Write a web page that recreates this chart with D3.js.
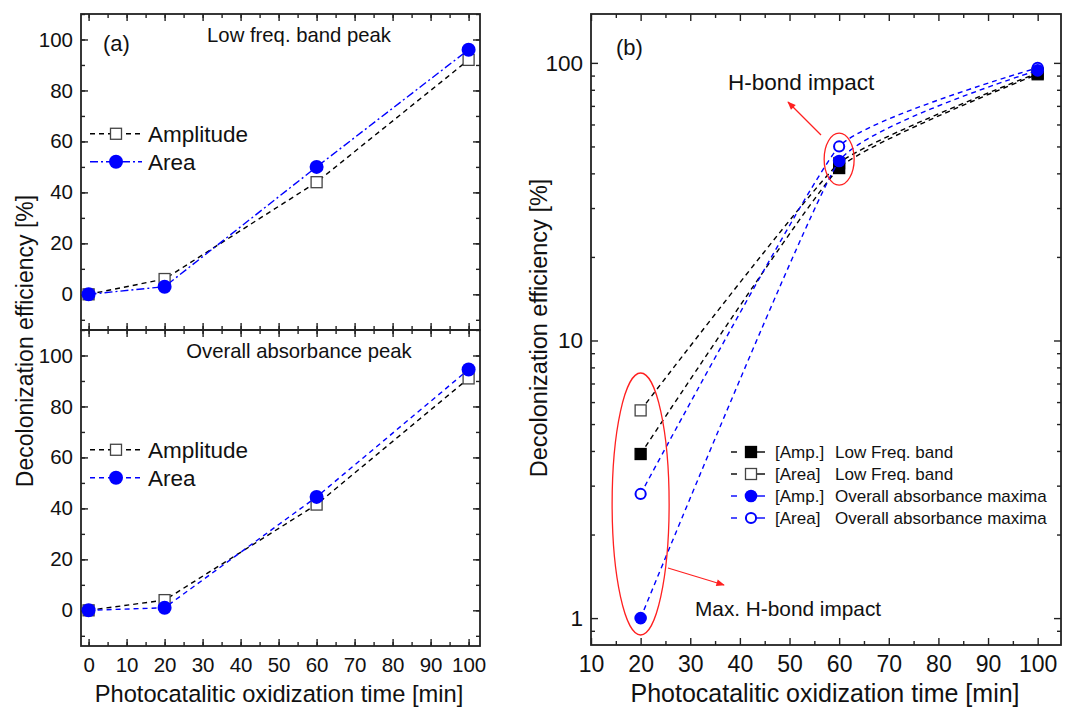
<!DOCTYPE html>
<html>
<head>
<meta charset="utf-8">
<script src="https://cdn.jsdelivr.net/npm/d3@7"></script>
<style>
  body { margin: 0; background: #fff; }
  svg { font-family: "Liberation Sans", Arial, sans-serif; }
  .axis line { stroke: #222; stroke-width: 1.4; }
  .axis text { fill: #111; }
</style>
</head>
<body>
<svg id="chart" width="1071" height="709"></svg>
<script>
// panel (a) data
const timesA = [0, 20, 60, 100];
const lowAmplitude = [0, 6, 44, 92];
const lowArea = [0, 3, 50, 96];
const overallAmplitude = [0, 4, 41.5, 91];
const overallArea = [0, 1, 44.5, 94.5];

// panel (b) data
const timesB = [20, 60, 100];
const bLowAmp = [3.9, 41.8, 91];
const bLowArea = [5.6, 43.5, 92];
const bOverallAmp = [1.0, 44.3, 94];
const bOverallArea = [2.8, 50, 96];

const xTicksA = [0, 10, 20, 30, 40, 50, 60, 70, 80, 90, 100];
const yTicksA = [0, 20, 40, 60, 80, 100];
const xTicksB = [10, 20, 30, 40, 50, 60, 70, 80, 90, 100];
const yTicksB = [1, 10, 100];

const legendB = [
  { tag: '[Amp.]', name: 'Low Freq. band', color: '#000', shape: 'square', filled: true },
  { tag: '[Area]', name: 'Low Freq. band', color: '#000', shape: 'square', filled: false },
  { tag: '[Amp.]', name: 'Overall absorbance maxima', color: '#0000ff', shape: 'circle', filled: true },
  { tag: '[Area]', name: 'Overall absorbance maxima', color: '#0000ff', shape: 'circle', filled: false },
];

const BLUE = '#0000ff';
const DASH = '5,4';
const DASHDOT = '8,3,2,3';

const svg = d3.select('#chart');

function drawMarker(g, shape, x, y, color, filled, r) {
	r = r || 7;
	if (shape === 'square') {
		g.append('rect')
			.attr('x', x - 5.5).attr('y', y - 5.5)
			.attr('width', 11).attr('height', 11)
			.attr('fill', filled ? color : '#fff')
			.attr('stroke', filled ? color : '#444')
			.attr('stroke-width', 1.3);
	} else {
		g.append('circle')
			.attr('cx', x).attr('cy', y)
			.attr('r', filled ? r : r - 1.2)
			.attr('fill', filled ? color : '#fff')
			.attr('stroke', color)
			.attr('stroke-width', filled ? 0 : 2);
	}
}

// frame with ticks on all four sides, pointing inside
function frame(g, x, y, opts) {
	const [x0, x1] = x.range();
	const [y0, y1] = y.range(); // y0 bottom, y1 top

	g.append('g').attr('class', 'axis').attr('transform', `translate(0,${y0})`)
		.call(d3.axisBottom(x).tickValues(opts.xMinor).tickSize(-4).tickFormat(''));
	const bMaj = g.append('g').attr('class', 'axis').attr('transform', `translate(0,${y0})`)
		.call(d3.axisBottom(x).tickValues(opts.xTicks).tickSize(-7).tickPadding(opts.xPad)
			.tickFormat(opts.showX ? d3.format('d') : ''));
	bMaj.selectAll('text').style('font-size', opts.xFont + 'px');

	g.append('g').attr('class', 'axis').attr('transform', `translate(0,${y1})`)
		.call(d3.axisTop(x).tickValues(opts.xMinor).tickSize(-4).tickFormat(''));
	g.append('g').attr('class', 'axis').attr('transform', `translate(0,${y1})`)
		.call(d3.axisTop(x).tickValues(opts.xTicks).tickSize(-7).tickFormat(''));

	g.append('g').attr('class', 'axis').attr('transform', `translate(${x0},0)`)
		.call(d3.axisLeft(y).tickValues(opts.yMinor).tickSize(-4).tickFormat(''));
	const lMaj = g.append('g').attr('class', 'axis').attr('transform', `translate(${x0},0)`)
		.call(d3.axisLeft(y).tickValues(opts.yTicks).tickSize(-7).tickPadding(8)
			.tickFormat(d3.format('d')));
	lMaj.selectAll('text').style('font-size', opts.yFont + 'px');

	g.append('g').attr('class', 'axis').attr('transform', `translate(${x1},0)`)
		.call(d3.axisRight(y).tickValues(opts.yMinor).tickSize(-4).tickFormat(''));
	g.append('g').attr('class', 'axis').attr('transform', `translate(${x1},0)`)
		.call(d3.axisRight(y).tickValues(opts.yTicks).tickSize(-7).tickFormat(''));

	g.selectAll('.axis path').remove();
	g.append('rect')
		.attr('x', x0).attr('y', y1).attr('width', x1 - x0).attr('height', y0 - y1)
		.attr('fill', 'none').attr('stroke', '#222').attr('stroke-width', 1.8);
}

function series(g, x, y, xs, ys, color, dash, shape, filled, curve, r) {
	const pts = xs.map((d, i) => [x(d), y(ys[i])]);
	g.append('path')
		.attr('d', d3.line().curve(curve || d3.curveLinear)(pts))
		.attr('fill', 'none')
		.attr('stroke', color)
		.attr('stroke-width', 1.4)
		.attr('stroke-dasharray', dash);
	pts.forEach(p => drawMarker(g, shape, p[0], p[1], color, filled, r));
}

function legendRow(g, x, y, color, dash, shape, filled, label) {
	g.append('line')
		.attr('x1', x - 26).attr('x2', x + 26).attr('y1', y).attr('y2', y)
		.attr('stroke', color).attr('stroke-width', 1.4).attr('stroke-dasharray', dash);
	drawMarker(g, shape, x, y, color, filled);
	g.append('text').attr('x', x + 32).attr('y', y + 8)
		.style('font-size', '22.5px').attr('fill', '#111').text(label);
}

// ---------------- panel (a) ----------------
const xA = d3.scaleLinear().domain([-2, 103]).range([81, 480]);
const minorA = d3.range(0, 101, 5);
const yMinorA = d3.range(-10, 111, 10);

const subPanels = [
	{ top: 14, bottom: 330, amp: lowAmplitude, area: lowArea, areaDash: DASHDOT, title: 'Low freq. band peak', showX: false, tag: '(a)' },
	{ top: 330, bottom: 646, amp: overallAmplitude, area: overallArea, areaDash: DASH, title: 'Overall absorbance peak', showX: true },
];

subPanels.forEach(p => {
	const g = svg.append('g');
	const y = d3.scaleLinear().domain([-14, 110]).range([p.bottom, p.top]);
	frame(g, xA, y, {
		xTicks: xTicksA, xMinor: minorA, yTicks: yTicksA, yMinor: yMinorA,
		showX: p.showX, xFont: 20.5, yFont: 20.5, xPad: 11,
	});
	series(g, xA, y, timesA, p.amp, '#000', DASH, 'square', false);
	series(g, xA, y, timesA, p.area, BLUE, p.areaDash, 'circle', true);

	g.append('text').attr('x', 299).attr('y', y(100) + 3)
		.attr('text-anchor', 'middle').style('font-size', '20.3px').attr('fill', '#111').text(p.title);
	if (p.tag) {
		g.append('text').attr('x', 103).attr('y', y(100) + 12)
			.style('font-size', '22px').attr('fill', '#111').text(p.tag);
	}
	legendRow(g, 116, y(63), '#000', DASH, 'square', false, 'Amplitude');
	legendRow(g, 116, y(52), BLUE, p.areaDash, 'circle', true, 'Area');
});

svg.append('text')
	.attr('transform', 'translate(33,341) rotate(-90)')
	.attr('text-anchor', 'middle').style('font-size', '23px').attr('fill', '#111')
	.text('Decolonization efficiency [%]');
svg.append('text')
	.attr('x', 279).attr('y', 702)
	.attr('text-anchor', 'middle').style('font-size', '23.7px').attr('fill', '#111')
	.text('Photocatalitic oxidization time [min]');

// ---------------- panel (b) ----------------
const xB = d3.scaleLinear().domain([10, 104.7]).range([591, 1061]);
const yB = d3.scaleLog().domain([0.8, 150]).range([645, 14]);
const gB = svg.append('g');
const yMinorB = [0.9, 2, 3, 4, 5, 6, 7, 8, 9, 20, 30, 40, 50, 60, 70, 80, 90];
const curveB = d3.curveCardinal.tension(0.6);

frame(gB, xB, yB, {
	xTicks: xTicksB, xMinor: d3.range(15, 101, 10), yTicks: yTicksB, yMinor: yMinorB,
	showX: true, xFont: 23, yFont: 22.5, xPad: 11,
});

series(gB, xB, yB, timesB, bLowArea, '#000', DASH, 'square', false, curveB, 6.3);
series(gB, xB, yB, timesB, bLowAmp, '#000', DASH, 'square', true, curveB, 6.3);
series(gB, xB, yB, timesB, bOverallArea, BLUE, DASH, 'circle', false, curveB, 6.3);
series(gB, xB, yB, timesB, bOverallAmp, BLUE, DASH, 'circle', true, curveB, 6.3);

gB.append('text').attr('x', 616).attr('y', 55)
	.style('font-size', '22px').attr('fill', '#111').text('(b)');

// annotations
const red = '#ff2020';
svg.append('defs').append('marker')
	.attr('id', 'arrow').attr('viewBox', '0 0 10 10').attr('refX', 9).attr('refY', 5)
	.attr('markerWidth', 9).attr('markerHeight', 7).attr('orient', 'auto')
	.append('path').attr('d', 'M0,1 L10,5 L0,9 z').attr('fill', red);

gB.append('ellipse').attr('cx', xB(60)).attr('cy', yB(45)).attr('rx', 15).attr('ry', 26)
	.attr('fill', 'none').attr('stroke', red).attr('stroke-width', 1.3);
gB.append('line').attr('x1', 821).attr('y1', 135).attr('x2', 788).attr('y2', 102)
	.attr('stroke', red).attr('stroke-width', 1.2).attr('marker-end', 'url(#arrow)');
gB.append('text').attr('x', 728).attr('y', 90)
	.style('font-size', '22.5px').attr('fill', '#111').text('H-bond impact');

gB.append('ellipse').attr('cx', xB(20)).attr('cy', 504).attr('rx', 28.5).attr('ry', 131)
	.attr('fill', 'none').attr('stroke', red).attr('stroke-width', 1.3);
gB.append('line').attr('x1', 668).attr('y1', 568).attr('x2', 724).attr('y2', 585)
	.attr('stroke', red).attr('stroke-width', 1.2).attr('marker-end', 'url(#arrow)');
gB.append('text').attr('x', 695).attr('y', 616)
	.style('font-size', '20.8px').attr('fill', '#111').text('Max. H-bond impact');

// legend (b)
legendB.forEach((d, i) => {
	const ly = 452 + i * 22;
	const lg = gB.append('g');
	[[731, 737], [757, 765]].forEach(s => {
		lg.append('line').attr('x1', s[0]).attr('x2', s[1]).attr('y1', ly).attr('y2', ly)
			.attr('stroke', d.color).attr('stroke-width', 1.4);
	});
	drawMarker(lg, d.shape, 751, ly, d.color, d.filled, 6.3);
	lg.append('text').attr('x', 775).attr('y', ly + 6)
		.style('font-size', '17px').attr('fill', '#111').text(d.tag);
	lg.append('text').attr('x', 835).attr('y', ly + 6)
		.style('font-size', '17px').attr('fill', '#111').text(d.name);
});

svg.append('text')
	.attr('transform', 'translate(547,328) rotate(-90)')
	.attr('text-anchor', 'middle').style('font-size', '23.5px').attr('fill', '#111')
	.text('Decolonization efficiency [%]');
svg.append('text')
	.attr('x', 825).attr('y', 702)
	.attr('text-anchor', 'middle').style('font-size', '25px').attr('fill', '#111')
	.text('Photocatalitic oxidization time [min]');
</script>
</body>
</html>
